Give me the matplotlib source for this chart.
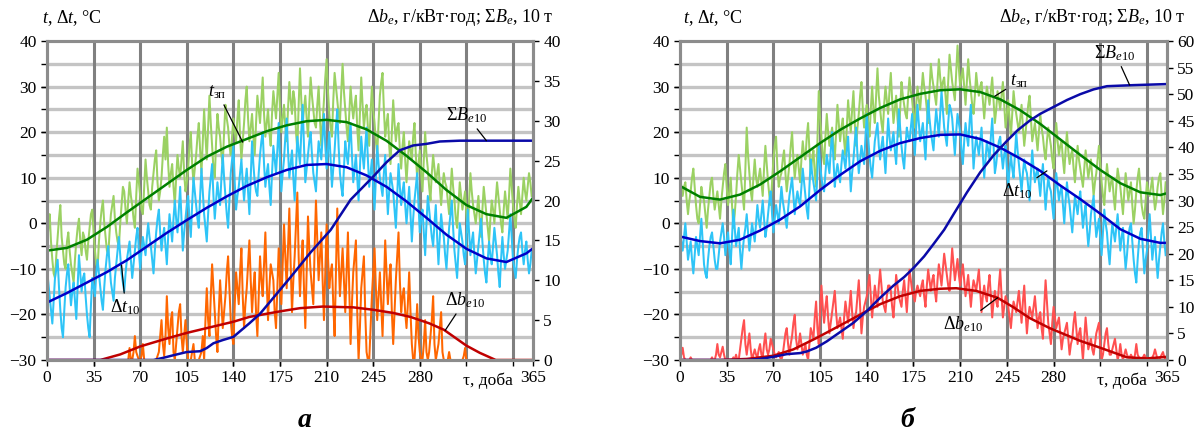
import matplotlib
matplotlib.use("Agg")
import matplotlib.pyplot as plt
import matplotlib.transforms as mtransforms

plt.rcParams['font.family'] = ['Liberation Serif', 'DejaVu Serif']
plt.rcParams['mathtext.fontset'] = 'custom'
plt.rcParams['mathtext.rm'] = 'Liberation Serif'
plt.rcParams['mathtext.it'] = 'Liberation Serif:italic'
plt.rcParams['mathtext.bf'] = 'Liberation Serif:bold'

# day of year for the daily (noisy) series
days_daily = list(range(0, 365))

# ---------- panel a ----------  (one row = 30 days)
a_t_daily = [
    -5, -1, 2, -4, -8, -11, -12, -7, -3, 1, 4, -3, -6, -9, -10, -4, -2, -6, -9, -11, -13, -8, -4, -1, 1, -4, -7, -2, -3, -6,
    -8, -4, -1, 2, 3, -2, -6, -9, -10, -4, 0, 3, 5, 0, -3, -6, -7, -2, 2, 4, 6, 1, -2, -4, -5, 0, 4, 8, 7, 3,
    0, 5, 9, 6, 4, 1, -1, 6, 12, 9, 6, 3, 2, 8, 14, 10, 7, 4, 3, 8, 11, 14, 16, 9, 5, 7, 10, 15, 19, 14,
    21, 13, 8, 11, 13, 8, 4, 10, 15, 12, 10, 14, 18, 11, 7, 9, 12, 17, 20, 13, 9, 12, 15, 19, 22, 16, 11, 18, 25, 19,
    14, 21, 28, 22, 17, 12, 10, 18, 24, 21, 19, 15, 13, 20, 26, 23, 21, 17, 15, 19, 23, 20, 18, 23, 27, 19, 14, 18, 22, 27,
    30, 23, 18, 21, 24, 19, 15, 22, 28, 25, 22, 27, 32, 24, 19, 22, 25, 20, 17, 24, 29, 26, 23, 28, 33, 25, 20, 23, 26, 21,
    18, 25, 31, 27, 24, 29, 27, 20, 16, 26, 34, 27, 22, 25, 28, 23, 19, 26, 32, 28, 25, 22, 21, 26, 30, 23, 17, 22, 27, 32,
    36, 29, 24, 21, 19, 27, 33, 30, 27, 24, 22, 29, 35, 29, 25, 21, 18, 24, 30, 26, 23, 26, 28, 21, 16, 24, 32, 26, 21, 24,
    26, 21, 17, 24, 30, 25, 22, 18, 15, 22, 28, 31, 33, 25, 19, 22, 24, 17, 13, 20, 27, 22, 18, 21, 22, 16, 12, 17, 20, 14,
    9, 14, 18, 16, 14, 19, 22, 15, 10, 13, 16, 11, 7, 14, 20, 15, 12, 8, 5, 11, 15, 12, 9, 11, 13, 8, 4, 8, 11, 9,
    8, 5, 2, 7, 12, 8, 5, 1, -1, 4, 9, 6, 3, 5, 7, 2, -2, 5, 11, 7, 4, 2, 0, 3, 6, 1, -3, 3, 8, 5,
    2, -1, -4, 1, 5, 3, 0, 5, 9, 6, 3, 0, -2, 3, 7, 4, 1, 6, 12, 8, 4, 1, -1, 4, 8, 5, 2, 6, 10, 7,
    5, 8, 11, 9, 6,
]
a_dt_daily = [
    -10, -13, -16, -19, -22, -17, -12, -10, -8, -14, -19, -23, -25, -19, -14, -11, -9, -14, -18, -15, -13, -17, -21, -14, -7, -11, -15, -12, -11, -16,
    -20, -23, -25, -18, -12, -14, -16, -11, -8, -11, -14, -17, -19, -14, -10, -7, -5, -9, -13, -15, -17, -12, -9, -6, -3, -7, -11, -13, -15, -11,
    -8, -6, -4, -8, -12, -9, -6, -3, -1, -6, -10, -6, -3, -5, -7, -3, 0, -3, -5, -8, -11, -6, -2, 1, 3, -2, -6, -3, -1, -5,
    -9, -3, 2, -1, -4, 1, 5, 1, -2, 3, 8, 1, -6, -2, 1, 4, 6, 1, -3, 4, 10, 7, 4, 1, -1, 6, 12, 7, 2, -1,
    -4, 2, 7, 10, 13, 6, 1, 5, 9, 6, 4, 10, 15, 10, 6, 2, -1, 5, 11, 14, 17, 9, 3, 6, 8, 11, 14, 9, 5, 9,
    12, 7, 2, 10, 18, 13, 9, 7, 6, 11, 15, 18, 20, 13, 8, 11, 13, 8, 4, 11, 17, 14, 11, 16, 22, 14, 7, 11, 14, 19,
    23, 16, 10, 13, 16, 10, 5, 12, 19, 16, 13, 20, 26, 17, 9, 12, 15, 18, 20, 15, 11, 9, 7, 13, 18, 16, 14, 19, 24, 17,
    12, 16, 20, 14, 8, 12, 16, 21, 25, 17, 11, 8, 6, 12, 18, 15, 13, 18, 22, 15, 9, 12, 15, 10, 5, 12, 19, 15, 12, 17,
    21, 14, 8, 11, 14, 8, 3, 10, 17, 13, 10, 8, 6, 11, 15, 8, 2, 7, 11, 9, 7, 3, -1, 6, 13, 8, 4, 7, 9, 4,
    0, 4, 8, 2, -4, 1, 5, 8, 11, 4, -2, 1, 3, -2, -7, 0, 6, 3, 0, -3, -5, 0, 4, -3, -9, -3, 2, -1, -3, -7,
    -10, -5, -1, 2, 5, -1, -6, -9, -12, -6, 0, -2, -4, -7, -9, -3, 3, -2, -7, -4, -2, -7, -11, -8, -5, -2, 1, -4, -8, -11,
    -13, -8, -4, -7, -9, -5, -1, -4, -7, -11, -14, -8, -3, -7, -10, -8, -6, -2, 2, -3, -8, -10, -12, -8, -5, -3, -2, -6, -9, -6,
    -4, -8, -11, -9, -6,
]
a_db_daily = [
    0, 0, 0, 0, 0, 0, 0, 0, 0, 0, 0, 0, 0, 0, 0, 0, 0, 0, 0, 0, 0, 0, 0, 0, 0, 0, 0, 0, 0, 0,
    0, 0, 0, 0, 0, 0, 0, 0, 0, 0, 0, 0, 0, 0, 0, 0, 0, 0, 0, 0, 0, 0, 0, 0, 0, 0, 0, 0, 0, 0,
    0, 0, 1.5, 0, 0, 1, 3, 1, 0.5, 0, 0, 0.5, 2, 0, 0, 0, 0, 0, 0, 0, 0, 0, 0, 0.5, 1, 3, 5, 2, 0.5, 3,
    8, 4, 2, 5, 6, 1, 0, 2, 4, 6, 7, 3, 1, 3, 5, 2, 0, 0, 0, 1, 2, 0, 0, 0, 0, 0.5, 1, 3, 0, 5,
    9, 5, 3, 8, 12, 9, 6, 3, 1, 6, 10, 7, 4, 6, 8, 11, 13, 9, 5, 3, 2, 7, 11, 9, 7, 11, 14, 8, 4, 7,
    9, 12, 15, 10, 6, 9, 11, 6, 3, 8, 13, 10, 8, 12, 16, 10, 5, 9, 12, 11, 10, 6, 4, 9, 14, 10, 7, 12, 17, 13,
    9, 14, 19, 12, 6, 10, 13, 17, 21, 13, 8, 12, 15, 9, 4, 11, 18, 14, 11, 9, 7, 14, 20, 15, 10, 13, 16, 10, 5, 11,
    17, 13, 9, 11, 12, 7, 3, 11, 19, 13, 8, 11, 14, 10, 6, 11, 16, 9, 2, 7, 11, 13, 15, 6, 0, 4, 9, 11, 13, 6,
    1, 0, 0, 4, 8, 11, 14, 9, 5, 8, 11, 7, 3, 9, 15, 11, 7, 10, 12, 6, 2, 6, 10, 13, 16, 10, 6, 8, 9, 6,
    4, 7, 11, 6, 2, 0, 0, 3, 7, 3, 1, 0, 0, 2, 5, 1, 0, 1, 3, 5, 8, 2, 0, 1, 2, 4, 6, 1, 0, 0,
    0, 0, 1, 0, 0, 0, 0, 0, 0, 0, 0, 0, 0, 0.5, 1.5, 0, 0, 0, 0, 0, 0, 0, 0, 0, 0, 0, 0, 0, 0, 0,
    0, 0, 0, 0, 0, 0, 0, 0, 0, 0, 0, 0, 0, 0, 0, 0, 0, 0, 0, 0, 0, 0, 0, 0, 0, 0, 0, 0, 0, 0,
    0, 0, 0, 0, 0,
]

days_smooth = list(range(0, 361, 15)) + [365]
a_t_smooth = [-6.0, -5.4, -3.6, -0.8, 2.4, 5.5, 8.6, 11.7, 14.6, 16.8, 18.5, 20.2, 21.5,
              22.4, 22.7, 22.2, 20.6, 18.1, 14.8, 11.2, 7.3, 4.0, 2.0, 1.2, 3.6, 5.6]
a_dt_smooth = [-17.4, -15.3, -13.0, -10.7, -8.1, -5.1, -2.1, 0.7, 3.4, 5.9, 8.2, 10.1, 11.7,
               12.8, 13.0, 12.3, 10.5, 8.0, 4.8, 1.2, -2.5, -5.6, -7.7, -8.5, -6.6, -5.5]

a_sum_days = [0, 80, 88, 95, 105, 115, 120, 125, 132, 140, 152, 160, 170, 183, 198, 213,
              228, 245, 255, 265, 275, 285, 295, 310, 365]
a_sum_vals = [0, 0, 0.3, 0.6, 1.0, 1.1, 1.5, 2.1, 2.5, 2.9, 4.6, 5.8, 7.8, 10.4, 13.5, 16.3,
              20.1, 23.0, 24.8, 26.3, 26.9, 27.1, 27.4, 27.5, 27.5]
a_db_days = [0, 40, 55, 70, 90, 105, 120, 140, 152, 175, 190, 207, 230, 245, 260, 273,
             287, 298, 315, 325, 337, 365]
a_db_vals = [0, 0, 0.7, 1.7, 2.7, 3.4, 4.0, 4.8, 5.4, 6.1, 6.5, 6.7, 6.6, 6.3, 5.9, 5.4,
             4.6, 3.8, 1.8, 0.9, 0, 0]

# ---------- panel b ----------
b_t_daily = [
    11, 8, 6, 8, 9, 5, 2, 5, 7, 10, 12, 8, 4, 1, 0, 4, 8, 6, 5, 2, -1, 3, 6, 9, 10, 6, 3, 5, 7, 4,
    1, 5, 8, 11, 13, 8, 4, 7, 10, 4, -1, 2, 6, 11, 15, 12, 9, 6, 3, 12, 21, 15, 11, 7, 5, 10, 14, 10, 8, 10,
    12, 9, 6, 12, 17, 13, 9, 6, 4, 9, 14, 17, 19, 12, 8, 10, 11, 14, 16, 11, 7, 10, 13, 17, 20, 14, 10, 13, 15, 12,
    9, 14, 18, 15, 14, 19, 22, 16, 11, 14, 16, 11, 8, 18, 29, 23, 19, 15, 13, 19, 24, 20, 17, 19, 21, 17, 14, 20, 26, 22,
    18, 21, 23, 18, 15, 21, 27, 23, 20, 25, 29, 22, 17, 21, 24, 28, 31, 25, 21, 24, 26, 22, 19, 25, 30, 25, 22, 28, 34, 28,
    25, 22, 20, 26, 30, 27, 24, 29, 33, 27, 22, 25, 28, 23, 19, 25, 31, 28, 26, 24, 23, 28, 32, 29, 27, 24, 21, 26, 30, 27,
    25, 29, 33, 30, 28, 25, 22, 29, 35, 32, 30, 28, 26, 31, 36, 32, 29, 31, 32, 28, 24, 31, 37, 34, 31, 29, 27, 33, 39, 34,
    30, 32, 34, 30, 26, 31, 36, 32, 29, 26, 24, 28, 33, 30, 28, 30, 31, 27, 23, 27, 30, 28, 26, 29, 32, 27, 22, 25, 29, 27,
    25, 28, 31, 26, 21, 24, 27, 23, 19, 24, 29, 26, 24, 22, 20, 23, 26, 21, 17, 20, 23, 26, 28, 23, 18, 20, 22, 19, 16, 20,
    24, 21, 19, 16, 14, 18, 21, 19, 17, 14, 12, 17, 22, 18, 15, 17, 18, 14, 11, 16, 20, 16, 13, 15, 16, 12, 9, 13, 17, 14,
    12, 10, 8, 12, 16, 13, 10, 12, 14, 10, 6, 9, 11, 14, 17, 13, 9, 6, 4, 9, 13, 10, 7, 9, 10, 6, 3, 8, 12, 10,
    8, 5, 2, 7, 11, 8, 5, 7, 9, 4, 0, 3, 7, 10, 12, 8, 4, 2, 1, 5, 9, 7, 6, 8, 10, 6, 3, 5, 8, 10,
    11, 6, 2, 5, 9,
]
b_dt_daily = [
    -2, -4, -6, -3, 0, -4, -8, -6, -4, -8, -11, -7, -3, -5, -7, -3, 1, -4, -9, -11, -12, -8, -5, -3, -2, -5, -8, -10, -10, -7,
    -4, -2, 0, -3, -7, -4, -2, -6, -9, -3, 3, -1, -5, -3, -1, -6, -10, -6, -3, -1, 2, -2, -6, -3, 0, -2, -4, 0, 4, 1,
    -1, 2, 5, 1, -3, -1, 2, 5, 7, 2, -2, 1, 4, 2, 0, 4, 8, 5, 3, 1, -1, 3, 6, 8, 10, 6, 2, 5, 7, 5,
    4, 8, 12, 9, 6, 3, 1, 8, 14, 11, 9, 7, 5, 11, 17, 13, 10, 8, 7, 11, 15, 13, 11, 16, 20, 14, 8, 11, 13, 11,
    9, 13, 16, 14, 12, 16, 19, 13, 7, 11, 14, 18, 21, 15, 11, 14, 17, 15, 13, 19, 24, 19, 15, 12, 10, 14, 18, 20, 22, 17,
    14, 17, 19, 15, 11, 17, 23, 19, 16, 18, 20, 16, 13, 19, 25, 21, 17, 14, 12, 17, 21, 19, 18, 21, 24, 19, 15, 21, 26, 22,
    18, 20, 22, 18, 14, 21, 27, 23, 20, 18, 16, 21, 25, 22, 19, 24, 29, 25, 21, 19, 17, 22, 26, 25, 23, 19, 15, 20, 24, 22,
    20, 16, 13, 18, 22, 19, 17, 22, 26, 19, 12, 16, 19, 17, 15, 18, 21, 15, 10, 14, 18, 16, 14, 19, 23, 17, 11, 13, 16, 18,
    19, 15, 12, 15, 17, 12, 8, 12, 15, 12, 10, 15, 20, 16, 13, 10, 7, 11, 14, 12, 11, 8, 5, 11, 16, 12, 9, 11, 12, 9,
    6, 10, 13, 8, 3, 7, 10, 8, 7, 4, 1, 6, 11, 8, 5, 7, 8, 4, 0, 5, 9, 6, 4, 1, -2, 2, 6, 4, 2, 5,
    7, 3, -1, 2, 4, -1, -5, -2, 2, 4, 6, 1, -3, -1, 1, -3, -7, -2, 3, 0, -2, -6, -9, -4, 0, -2, -4, -1, 2, -2,
    -6, -3, -1, -6, -10, -7, -3, -1, 0, -4, -8, -11, -13, -8, -4, -2, -1, -6, -11, -8, -6, -2, 2, -3, -8, -5, -3, -8, -12, -8,
    -5, -2, 0, -4, -7,
]
b_db_daily = [
    0.5, 1, 2.3, 0.5, 0, 0, 0, 0, 0.5, 0, 0, 0, 0, 0, 0, 0, 0, 0, 0, 0, 0, 0, 0, 0, 0.5, 0, 0, 1, 3, 1,
    0.5, 1.5, 2.5, 1, 0, 0, 0, 0, 0, 0, 0.5, 0, 1, 0, 0, 2, 4, 6, 7.5, 3, 1, 3, 5, 2, 0, 1, 2, 1, 0.5, 2,
    3, 1, 0.5, 3, 5, 2, 1, 2, 4, 3, 2, 1, 0.5, 1, 1.5, 0.5, 0, 1, 3, 5, 6, 3, 1, 3, 4.5, 7, 8.5, 4, 2, 3,
    5, 3, 1, 2, 3, 1, 0, 3, 6, 5, 4, 8, 11, 6, 3, 9, 14, 10, 7, 10, 12, 8, 5, 7, 9, 11, 13, 9, 6, 7,
    8, 6, 4, 8, 11, 9, 7, 10, 13, 9, 6, 8, 9, 12, 15, 10, 5, 8, 10, 11, 12, 14, 16, 12, 8, 11, 14, 12, 10, 14,
    17, 14, 11, 10, 9, 12, 14, 14, 13, 10, 8, 12, 16, 14, 12, 11, 10, 13, 15, 12, 9, 13, 17, 15, 13, 12, 11, 13, 14, 13,
    12, 14, 15, 12, 10, 14, 17, 15, 13, 15, 16, 13, 11, 15, 18, 16, 14, 17, 20, 18, 16, 14, 13, 17, 21, 18, 15, 17, 19, 16,
    14, 16, 18, 15, 12, 14, 16, 13, 10, 13, 15, 14, 13, 15, 17, 13, 9, 12, 14, 12, 11, 14, 16, 12, 8, 11, 13, 11, 10, 14,
    17, 12, 8, 10, 12, 11, 10, 8, 6, 9, 11, 10, 9, 11, 13, 10, 7, 11, 14, 9, 5, 8, 10, 9, 8, 10, 12, 9, 6, 8,
    9, 6, 4, 10, 15, 11, 7, 5, 3, 7, 10, 8, 6, 7, 8, 5, 2, 4, 5, 6, 7, 4, 1, 3, 4, 7, 9, 6, 3, 5,
    6, 3, 0, 4, 8, 5, 2, 3, 4, 2, 1, 3, 5, 6, 7, 3, 0, 1, 3, 5, 6, 3, 1, 1, 2, 3, 4, 2, 0, 1,
    3, 1, 0, 1, 2, 1, 0.5, 0.5, 1, 0.5, 0, 1, 3, 1, 0.5, 0, 0, 0.5, 1, 0.5, 0, 0, 0, 0, 0.5, 1, 2, 1, 0, 0,
    0.5, 1, 1.5, 0.5, 0,
]

b_t_smooth = [8.2, 5.8, 5.2, 6.3, 8.5, 11.4, 14.5, 17.6, 20.5, 23.0, 25.3, 27.2, 28.4,
              29.2, 29.4, 28.8, 27.2, 24.8, 21.8, 18.4, 15.0, 11.7, 8.8, 6.8, 6.2, 6.6]
b_dt_smooth = [-2.9, -3.9, -4.4, -3.6, -1.6, 0.8, 3.7, 7.3, 10.6, 13.6, 15.9, 17.6, 18.7,
               19.4, 19.5, 18.5, 16.6, 14.2, 11.5, 8.3, 5.3, 2.1, -1.3, -3.4, -4.3, -4.3]

b_sum_days = [0, 50, 60, 70, 80, 90, 95, 102, 110, 118, 130, 140, 150, 160, 168, 175, 183,
              190, 198, 205, 215, 225, 235, 245, 253, 262, 270, 280, 290, 300, 310, 320,
              340, 365]
b_sum_vals = [0, 0, 0.2, 0.6, 1.1, 1.3, 1.6, 2.3, 3.5, 4.9, 7.0, 9.2, 11.7, 14.0, 15.6, 17.3,
              19.5, 21.8, 24.5, 27.4, 31.5, 35.3, 38.5, 41.2, 43.2, 45.0, 46.3, 47.6, 48.9,
              50.0, 50.9, 51.5, 51.7, 51.9]
b_db_days = [0, 30, 50, 70, 85, 102, 120, 140, 150, 165, 180, 195, 207, 222, 238, 250, 262,
             277, 300, 315, 335, 350, 365]
b_db_vals = [0, 0, 0.2, 0.8, 2.0, 4.1, 6.5, 9.2, 10.5, 12.0, 13.0, 13.4, 13.5, 13.0, 11.7,
             9.9, 7.9, 6.0, 3.6, 2.3, 0.5, 0.3, 0.6]

x_labels = [0, 35, 70, 105, 140, 175, 210, 245, 280, 365]

C_T_NOISE = '#9bd163'
C_DT_NOISE = '#2ec4f7'
C_T = '#008000'
C_DT = '#0000c8'
C_SUM = '#0a0aa8'
C_DB = '#c00000'
SPINE = '#8c8c8c'
NOISE_LW = 1.45


def daily(ax, values, color):
    n = min(len(days_daily), len(values))
    ax.plot(days_daily[:n], values[:n], color=color, lw=NOISE_LW)


def setup(ax, ax2, rmax):
    ax.set_xlim(0, 365)
    ax.set_ylim(-30, 40)
    ax2.set_ylim(0, rmax)
    ax.xaxis.remove_overlapping_locs = False
    ax.yaxis.remove_overlapping_locs = False
    ax.set_xticks(x_labels)
    ax.set_xticklabels([str(v) for v in x_labels])
    ax.set_xticks(range(35, 351, 35), minor=True)
    ax.set_yticks(range(-30, 41, 10))
    ax.set_yticks(range(-25, 36, 5), minor=True)
    ax2.set_yticks(range(0, rmax + 1, 5))
    ax.set_axisbelow(True)
    ax.grid(which='minor', axis='y', color='#c4c4c4', lw=2.4)
    ax.grid(which='minor', axis='x', color='#808080', lw=2.2)
    ax.xaxis.set_zorder(0.6)
    ax.yaxis.set_zorder(0.5)
    for a in (ax, ax2):
        a.tick_params(which='both', direction='out', length=4, width=1,
                      labelsize=12.5, colors='black')
        for s in a.spines.values():
            s.set_color(SPINE)
            s.set_linewidth(2.2)
    ax.tick_params(axis='x', which='both', pad=3)
    tr = mtransforms.blended_transform_factory(ax.transData, ax.transAxes)
    ax.text(331, -0.066, "τ, доба", transform=tr, ha='center', va='center', fontsize=12.5)


fig = plt.figure(figsize=(12, 4.36), dpi=100)
lp = dict(arrowstyle='-', color='black', lw=0.9, shrinkA=1, shrinkB=0)

# panel a
ax = fig.add_axes([47 / 1200, 1 - 360 / 436, 486 / 1200, 319 / 436])
ax2 = ax.twinx()
setup(ax, ax2, 40)
daily(ax, a_t_daily, C_T_NOISE)
daily(ax, a_dt_daily, C_DT_NOISE)
ax.plot(days_smooth, a_t_smooth, color=C_T, lw=1.8)
ax.plot(days_smooth, a_dt_smooth, color=C_DT, lw=1.8)
daily(ax2, a_db_daily, '#ff6600')
ax2.plot(a_db_days, a_db_vals, color=C_DB, lw=1.8)
ax2.plot(a_sum_days, a_sum_vals, color=C_SUM, lw=1.8)

ax.annotate(r"$t_{\mathrm{зп}}$", xy=(147, 17.8), xytext=(128, 28.8), fontsize=13,
            ha='center', va='center', arrowprops=lp)
ax.annotate(r"Δ$t_{10}$", xy=(56, -9.2), xytext=(59, -18.4), fontsize=13,
            ha='center', va='center', arrowprops=lp)
ax2.annotate(r"Σ$B_{e10}$", xy=(330, 27.5), xytext=(315, 30.7), fontsize=13,
             ha='center', va='center', arrowprops=lp)
ax2.annotate(r"Δ$b_{e10}$", xy=(299, 3.7), xytext=(314, 7.5), fontsize=13,
             ha='center', va='center', arrowprops=lp)

# panel b
bx = fig.add_axes([680 / 1200, 1 - 360 / 436, 487 / 1200, 319 / 436])
bx2 = bx.twinx()
setup(bx, bx2, 60)
daily(bx, b_t_daily, C_T_NOISE)
daily(bx, b_dt_daily, C_DT_NOISE)
bx.plot(days_smooth, b_t_smooth, color=C_T, lw=1.8)
bx.plot(days_smooth, b_dt_smooth, color=C_DT, lw=1.8)
daily(bx2, b_db_daily, '#ff5050')
bx2.plot(b_db_days, b_db_vals, color=C_DB, lw=1.8)
bx2.plot(b_sum_days, b_sum_vals, color=C_SUM, lw=1.8)

bx.annotate(r"$t_{\mathrm{зп}}$", xy=(236, 27.9), xytext=(254, 31.2), fontsize=13,
            ha='center', va='center', arrowprops=lp)
bx.annotate(r"Δ$t_{10}$", xy=(275, 11.5), xytext=(253, 7.1), fontsize=13,
            ha='center', va='center', arrowprops=lp)
bx2.annotate(r"Σ$B_{e10}$", xy=(337, 51.7), xytext=(326, 57.8), fontsize=13,
             ha='center', va='center', arrowprops=lp)
bx2.annotate(r"Δ$b_{e10}$", xy=(238, 11.7), xytext=(212, 6.8), fontsize=13,
             ha='center', va='center', arrowprops=lp)

# axis captions above the panels
left_cap = r"$t$, Δ$t$, °C"
right_cap = r"Δ$b_e$, г/кВт·год; Σ$B_e$, 10 т"
fig.text(42 / 1200, 1 - 18 / 436, left_cap, ha='left', va='center', fontsize=13)
fig.text(553 / 1200, 1 - 17 / 436, right_cap, ha='right', va='center', fontsize=13)
fig.text(683 / 1200, 1 - 18 / 436, left_cap, ha='left', va='center', fontsize=13)
fig.text(1185 / 1200, 1 - 17 / 436, right_cap, ha='right', va='center', fontsize=13)

fig.text(305 / 1200, 1 - 420 / 436, "а", ha='center', va='center', fontsize=20,
         fontweight='bold', fontstyle='italic')
fig.text(907 / 1200, 1 - 420 / 436, "б", ha='center', va='center', fontsize=20,
         fontweight='bold', fontstyle='italic')

fig.savefig("out.png", dpi=100)
